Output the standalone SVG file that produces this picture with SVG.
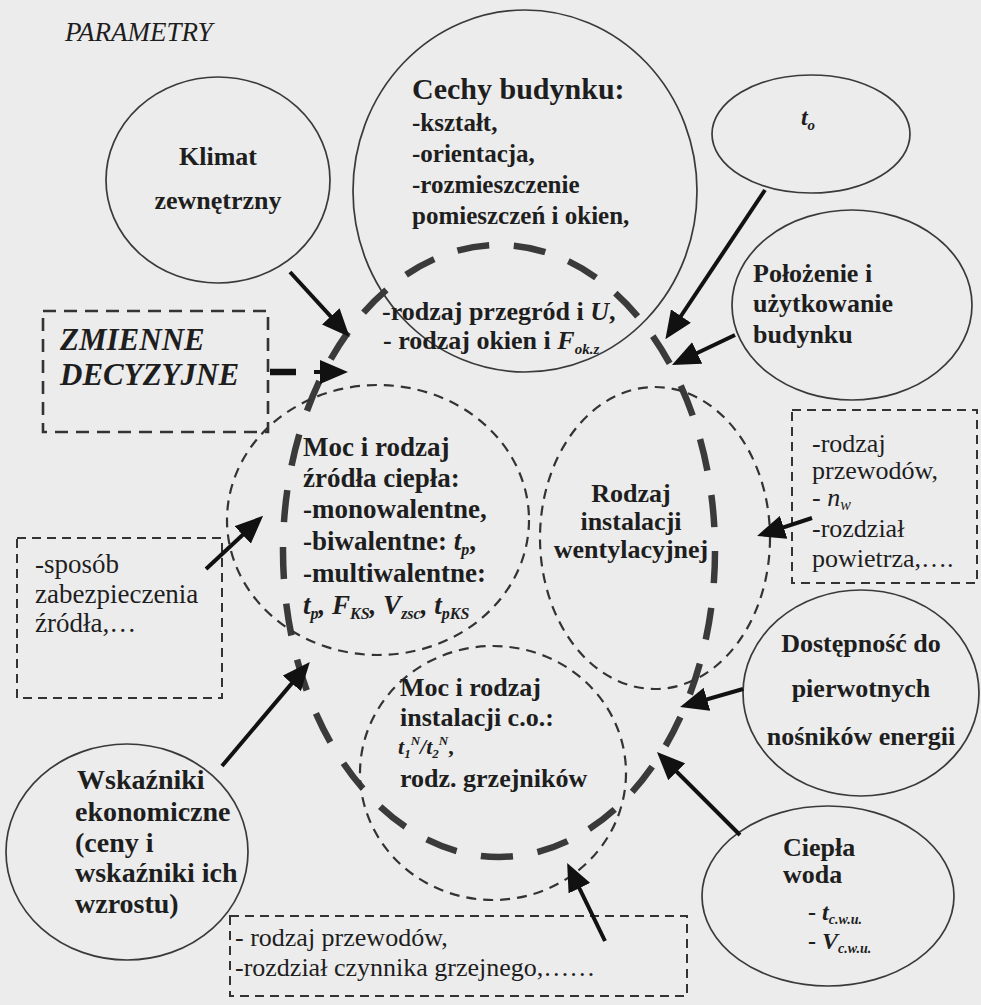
<svg xmlns="http://www.w3.org/2000/svg" width="981" height="1005" viewBox="0 0 981 1005">
<defs>
<style>
text{font-family:"Liberation Serif","Times New Roman",serif;fill:#1e1e1e}
.b{font-weight:bold}
.i{font-style:italic}
.bi{font-weight:bold;font-style:italic}
.solid{fill:none;stroke:#3a3a3a;stroke-width:1.7}
.thin{fill:none;stroke:#333;stroke-width:2.2;stroke-dasharray:10 7}
.box{fill:none;stroke:#333;stroke-width:2;stroke-dasharray:9 6}
.loop{fill:none;stroke:#3a3a3a;stroke-width:6.5;stroke-dasharray:19.5 15}
.arr{fill:none;stroke:#111;stroke-width:4;marker-end:url(#ah)}
</style>
<marker id="ah" markerUnits="userSpaceOnUse" markerWidth="28" markerHeight="24" refX="21" refY="12" orient="auto">
<path d="M0,0 L28,12 L0,24 z" fill="#111"/>
</marker>
</defs>
<rect width="981" height="1005" fill="#ececec"/>

<text class="i" x="65" y="41" font-size="27">PARAMETRY</text>

<g id="loop">
<ellipse class="loop" cx="499" cy="551" rx="216" ry="306" pathLength="1000"/>
</g>

<g id="klimat">
<ellipse class="solid" cx="218" cy="180" rx="112" ry="103"/>
<text class="b" x="218" y="165" font-size="26" text-anchor="middle">Klimat</text>
<text class="b" x="218" y="209" font-size="26" text-anchor="middle">zewnętrzny</text>
</g>

<g id="cechy">
<ellipse class="solid" cx="525" cy="191" rx="172" ry="181"/>
<text class="b" x="412" y="99" font-size="30">Cechy budynku:</text>
<text class="b" x="412" y="131" font-size="25">-kształt,</text>
<text class="b" x="412" y="162" font-size="25">-orientacja,</text>
<text class="b" x="412" y="193" font-size="25">-rozmieszczenie</text>
<text class="b" x="412" y="224" font-size="25">pomieszczeń i okien,</text>
<text class="b" x="382" y="320" font-size="26">-rodzaj przegród i <tspan class="i">U</tspan>,</text>
<text class="b" x="383" y="349" font-size="26">- rodzaj okien i <tspan class="i">F</tspan><tspan class="i" font-size="15" dy="5">ok.z</tspan></text>
</g>

<g id="to">
<ellipse class="solid" cx="811" cy="134" rx="99" ry="59"/>
<text class="bi" x="808" y="125" font-size="24" text-anchor="middle">t<tspan font-size="15" dy="5">o</tspan></text>
</g>

<g id="polozenie">
<ellipse class="solid" cx="852" cy="305" rx="120" ry="95"/>
<text class="b" x="753" y="282" font-size="26">Położenie i</text>
<text class="b" x="753" y="312" font-size="26">użytkowanie</text>
<text class="b" x="753" y="343" font-size="26">budynku</text>
</g>

<g id="zmienne">
<rect x="43" y="311" width="225" height="121" fill="none" stroke="#333" stroke-width="2.6" stroke-dasharray="13 8"/>
<text class="bi" x="60" y="350" font-size="31">ZMIENNE</text>
<text class="bi" x="60" y="385" font-size="31">DECYZYJNE</text>
</g>

<g id="zrodlo">
<ellipse class="thin" cx="378" cy="520" rx="151" ry="135"/>
<text class="b" x="303" y="456" font-size="27">Moc i rodzaj</text>
<text class="b" x="303" y="487" font-size="27">źródła ciepła:</text>
<text class="b" x="303" y="518" font-size="27">-monowalentne,</text>
<text class="b" x="303" y="550" font-size="27">-biwalentne: <tspan class="i">t</tspan><tspan class="i" font-size="16" dy="5">p</tspan><tspan dy="-5">,</tspan></text>
<text class="b" x="303" y="582" font-size="27">-multiwalentne:</text>
<text class="bi" x="303" y="614" font-size="27">t<tspan font-size="16" dy="5">p</tspan><tspan dy="-5">, F</tspan><tspan font-size="16" dy="5">KS</tspan><tspan dy="-5">, V</tspan><tspan font-size="16" dy="5">zsc</tspan><tspan dy="-5">, t</tspan><tspan font-size="16" dy="5">pKS</tspan></text>
</g>

<g id="wentylacja">
<ellipse class="thin" cx="655" cy="538" rx="115" ry="151"/>
<text class="b" x="631" y="502" font-size="26" text-anchor="middle">Rodzaj</text>
<text class="b" x="631" y="530" font-size="26" text-anchor="middle">instalacji</text>
<text class="b" x="631" y="558" font-size="26" text-anchor="middle">wentylacyjnej</text>
</g>

<g id="co">
<ellipse class="thin" cx="493" cy="773" rx="133" ry="127"/>
<text class="b" x="400" y="696" font-size="26">Moc i rodzaj</text>
<text class="b" x="400" y="726" font-size="26">instalacji c.o.:</text>
<text class="bi" x="398" y="754" font-size="22">t<tspan font-size="13" dy="4">1</tspan><tspan font-size="13" dy="-13">N</tspan><tspan dy="9">/t</tspan><tspan font-size="13" dy="4">2</tspan><tspan font-size="13" dy="-13">N</tspan><tspan dy="9" font-style="normal">,</tspan></text>
<text class="b" x="400" y="787" font-size="26">rodz. grzejników</text>
</g>

<g id="przewody-went">
<rect class="box" x="792" y="410" width="185" height="173"/>
<text x="812" y="452" font-size="26">-rodzaj</text>
<text x="812" y="479" font-size="26">przewodów,</text>
<text x="812" y="506" font-size="26">- <tspan class="i">n</tspan><tspan class="i" font-size="16" dy="4">w</tspan></text>
<text x="812" y="537" font-size="26">-rozdział</text>
<text x="812" y="567" font-size="26">powietrza,….</text>
</g>

<g id="sposob">
<rect class="box" x="17" y="538" width="205" height="160"/>
<text x="35" y="573" font-size="27">-sposób</text>
<text x="35" y="603" font-size="27">zabezpieczenia</text>
<text x="35" y="632" font-size="27">źródła,…</text>
</g>

<g id="dostepnosc">
<ellipse class="solid" cx="861" cy="693" rx="118" ry="103"/>
<text class="b" x="861" y="652" font-size="26" text-anchor="middle">Dostępność do</text>
<text class="b" x="861" y="697" font-size="26" text-anchor="middle">pierwotnych</text>
<text class="b" x="861" y="745" font-size="26" text-anchor="middle">nośników energii</text>
</g>

<g id="cieplawoda">
<ellipse class="solid" cx="828" cy="896" rx="126" ry="90"/>
<text class="b" x="783" y="856" font-size="26">Ciepła</text>
<text class="b" x="783" y="883" font-size="26">woda</text>
<text class="b" x="808" y="920" font-size="24">- <tspan class="i">t</tspan><tspan class="i" font-size="14" dy="4">c.w.u.</tspan></text>
<text class="b" x="808" y="949" font-size="24">- <tspan class="i">V</tspan><tspan class="i" font-size="14" dy="4">c.w.u.</tspan></text>
</g>

<g id="wskazniki">
<ellipse class="solid" cx="127" cy="852" rx="121" ry="108"/>
<text class="b" x="77" y="789" font-size="28">Wskaźniki</text>
<text class="b" x="75" y="821" font-size="28">ekonomiczne</text>
<text class="b" x="75" y="852" font-size="28">(ceny i</text>
<text class="b" x="75" y="882" font-size="28">wskaźniki ich</text>
<text class="b" x="75" y="913" font-size="28">wzrostu)</text>
</g>

<g id="przewody-co">
<rect class="box" x="230" y="916" width="457" height="80"/>
<text x="235" y="946" font-size="26">- rodzaj przewodów,</text>
<text x="235" y="976" font-size="26">-rozdział czynnika grzejnego,……</text>
</g>

<g id="connectors">
<line class="arr" x1="290" y1="272" x2="344.9" y2="331.9"/>
<line class="arr" x1="765" y1="190" x2="669.3" y2="333.5"/>
<line class="arr" x1="735" y1="335" x2="678.3" y2="362"/>
<line x1="270" y1="372" x2="296" y2="372" stroke="#111" stroke-width="6.5"/>
<line x1="314" y1="372" x2="341" y2="372" stroke="#111" stroke-width="4" marker-end="url(#ah)"/>
<line class="arr" x1="206" y1="569" x2="258" y2="520.6"/>
<line class="arr" x1="222" y1="766" x2="305.3" y2="667.4"/>
<line class="arr" x1="812" y1="518" x2="763.7" y2="533.8"/>
<line class="arr" x1="743" y1="689" x2="686.8" y2="705.1"/>
<line class="arr" x1="740" y1="835" x2="661.9" y2="756.9"/>
<line class="arr" x1="605" y1="941" x2="570.2" y2="869.3"/>
</g>
</svg>
